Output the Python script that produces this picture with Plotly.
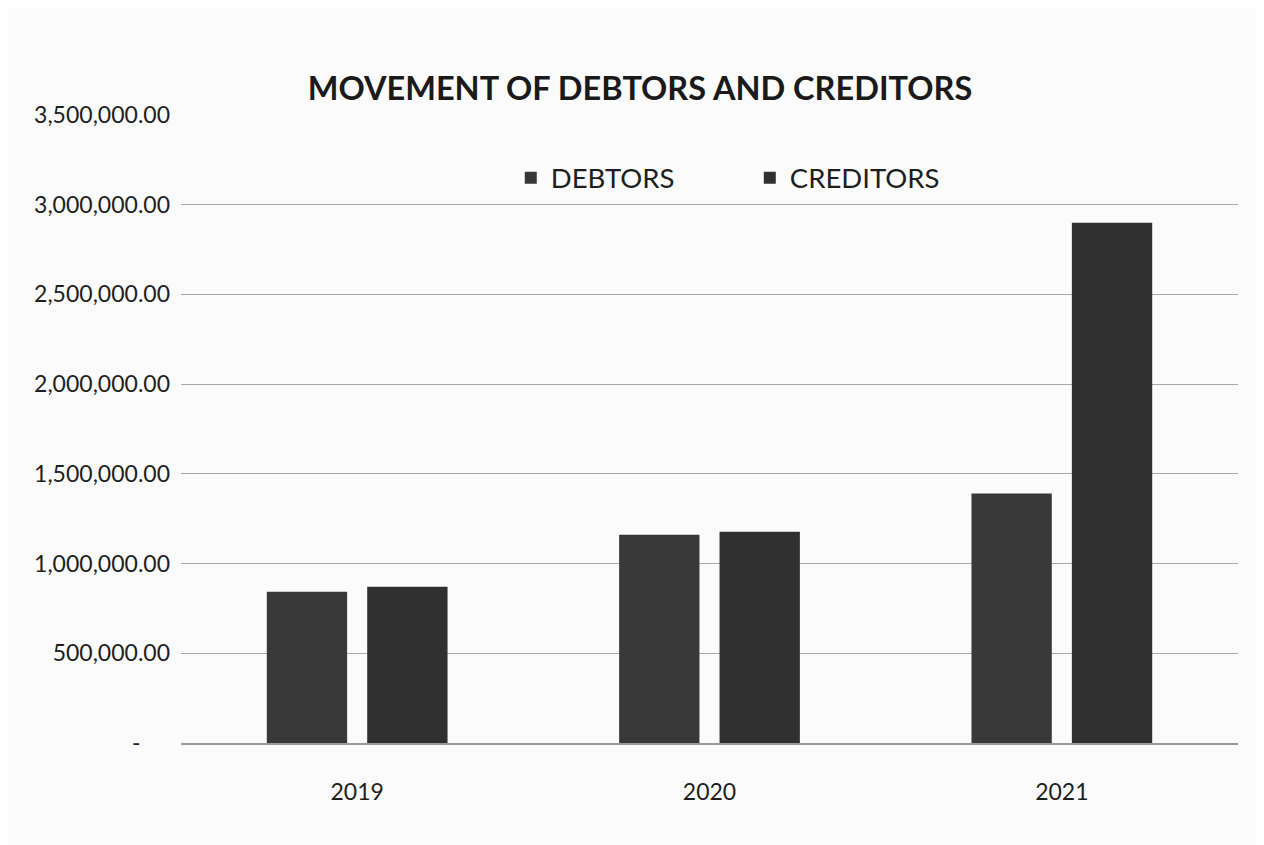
import plotly.graph_objects as go

years = ["2019", "2020", "2021"]
debtors = [843000, 1160000, 1390000]
creditors = [871000, 1178000, 2900000]
y_ticks = [0, 500000, 1000000, 1500000, 2000000, 2500000, 3000000, 3500000]
y_tick_labels = ["-" + "\u00a0" * 5, "500,000.00", "1,000,000.00", "1,500,000.00", "2,000,000.00",
                 "2,500,000.00", "3,000,000.00", "3,500,000.00"]

FONT = "Lato, Open Sans, sans-serif"

fig = go.Figure()
fig.add_trace(go.Bar(name="DEBTORS", x=years, y=debtors,
                     marker=dict(color="#383838", line=dict(width=0))))
fig.add_trace(go.Bar(name="CREDITORS", x=years, y=creditors,
                     marker=dict(color="#303030", line=dict(width=0))))

fig.update_layout(
    width=1264, height=845,
    paper_bgcolor="#fbfbfb", plot_bgcolor="#fbfbfb",
    barmode="group", bargap=0.43, bargroupgap=0.2,
    margin=dict(l=173, r=34, t=107, b=110),
    title=dict(text="<b>MOVEMENT OF DEBTORS AND CREDITORS</b>",
               x=0.5, xanchor="center", y=0.905, yanchor="middle",
               font=dict(family=FONT, size=32.5, color="#1a1a1a")),
    legend=dict(orientation="h", x=0.312, xanchor="left", y=0.9, yanchor="middle",
                font=dict(family=FONT, size=27.5, color="#1e1e1e"),
                bgcolor="rgba(0,0,0,0)", itemwidth=30, traceorder="normal",
                entrywidth=194),
    showlegend=True,
    font=dict(family=FONT, color="#1e1e1e"),
)
fig.update_xaxes(showgrid=False, showline=True, linecolor="#9a9a9a", linewidth=1.5,
                 tickfont=dict(family=FONT, size=23, color="#1e1e1e"), ticks="",
                 ticklabelstandoff=28)
fig.update_yaxes(range=[0, 3500000], tickvals=y_ticks, ticktext=y_tick_labels,
                 showgrid=True, gridcolor="#a8a8a8", gridwidth=1.3, zeroline=False,
                 tickfont=dict(family=FONT, size=23, color="#1e1e1e"), ticks="",
                 ticklabelstandoff=10)

fig.write_html("out.html")
